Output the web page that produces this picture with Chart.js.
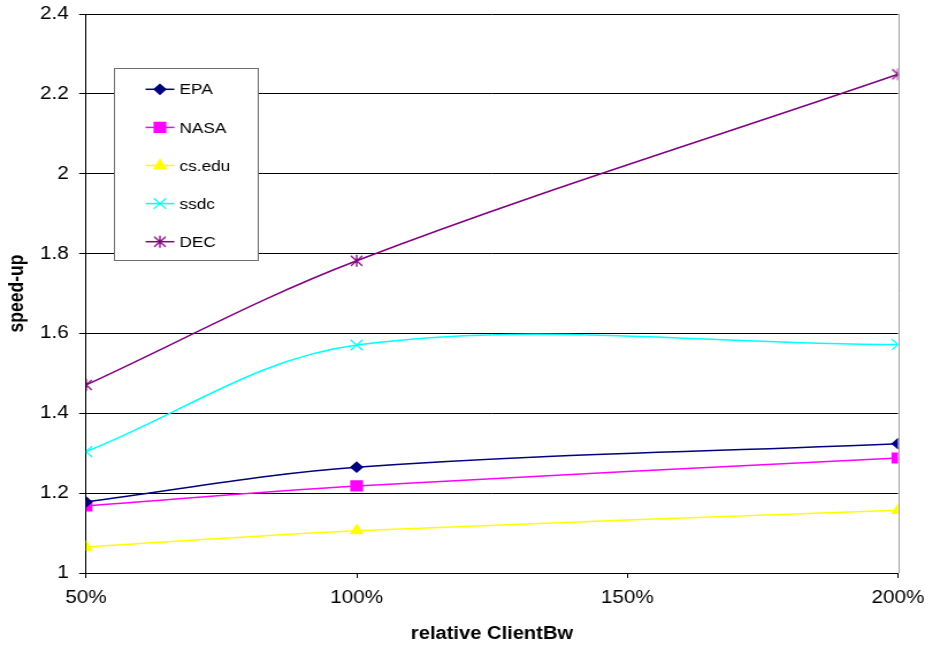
<!DOCTYPE html>
<html>
<head>
<meta charset="utf-8">
<title>speed-up vs relative ClientBw</title>
<script src="https://cdn.jsdelivr.net/npm/chart.js@4/dist/chart.umd.min.js"></script>
<style>
  html, body { margin: 0; padding: 0; background: #fff; overflow: hidden; }
  /* the drawing is made on a slightly narrower canvas and widened, giving the broad lettering */
  #wrap { position: absolute; left: 0; top: 0; width: 804px; height: 645px;
          transform-origin: 0 0; transform: scaleX(1.1505); }
</style>
</head>
<body>
<div id="wrap"><canvas id="c"></canvas></div>
<script>
// relative client bandwidth (%) at which each trace was replayed
const bandwidth = [50, 100, 200];
const xTickValues = [50, 100, 150, 200];
const yTickValues = [1, 1.2, 1.4, 1.6, 1.8, 2, 2.2, 2.4];

const seriesNames = ['EPA', 'NASA', 'cs.edu', 'ssdc', 'DEC'];
const epa   = [1.178, 1.265, 1.324];
const nasa  = [1.168, 1.218, 1.288];
const csEdu = [1.065, 1.106, 1.157];
const ssdc  = [1.304, 1.571, 1.572];
const dec   = [1.471, 1.782, 2.249];

const FONT = '"Liberation Sans", Arial, Helvetica, sans-serif';

// six-armed asterisk marker: an X with a vertical bar
function asteriskMarker(color) {
  const c = document.createElement('canvas');
  c.width = 14; c.height = 14;
  const g = c.getContext('2d');
  g.strokeStyle = color;
  g.lineWidth = 1.3;
  g.beginPath();
  g.moveTo(2, 2);  g.lineTo(12, 12);
  g.moveTo(12, 2); g.lineTo(2, 12);
  g.moveTo(7, 1);  g.lineTo(7, 13);
  g.stroke();
  return c;
}

const styles = [
  { color: '#000080', pointStyle: 'rectRot',  radius: 5 },
  { color: '#FF00FF', pointStyle: 'rect',     radius: 7 },
  { color: '#FFFF00', pointStyle: 'triangle', radius: 6 },
  { color: '#00FFFF', pointStyle: 'crossRot', radius: 7.5 },
  { color: '#800080', pointStyle: asteriskMarker('#800080'), radius: 7 }
];

const values = [epa, nasa, csEdu, ssdc, dec];

const datasets = seriesNames.map((name, i) => ({
  label: name,
  data: bandwidth.map((x, j) => ({ x: x, y: values[i][j] })),
  borderColor: styles[i].color,
  backgroundColor: styles[i].color,
  pointBackgroundColor: styles[i].color,
  pointBorderColor: styles[i].color,
  pointStyle: styles[i].pointStyle,
  pointRadius: styles[i].radius,
  pointHoverRadius: styles[i].radius,
  pointBorderWidth: 1.3,
  borderWidth: 1.5,
  tension: 0.35,
  fill: false
}));

// boxed key inside the plot, plus the grey right-hand frame line
const boxedKey = {
  id: 'boxedKey',
  beforeDatasetsDraw(chart) {
    const { ctx, chartArea } = chart;
    ctx.save();
    ctx.strokeStyle = '#a0a0a0';
    ctx.lineWidth = 1;
    ctx.beginPath();
    ctx.moveTo(Math.round(chartArea.right) + 0.5, chartArea.top);
    ctx.lineTo(Math.round(chartArea.right) + 0.5, chartArea.bottom);
    ctx.stroke();
    ctx.restore();
  },
  afterDatasetsDraw(chart, args, opts) {
    const { ctx } = chart;
    ctx.save();
    ctx.fillStyle = '#fff';
    ctx.fillRect(opts.x, opts.y, opts.w, opts.h);
    ctx.strokeStyle = '#707070';
    ctx.lineWidth = 1;
    ctx.strokeRect(Math.round(opts.x) + 0.5, Math.round(opts.y) + 0.5, Math.round(opts.w), Math.round(opts.h));
    chart.data.datasets.forEach((ds, i) => {
      const yy = opts.rowY0 + i * opts.rowStep;
      ctx.strokeStyle = ds.borderColor;
      ctx.lineWidth = 1.5;
      ctx.beginPath();
      ctx.moveTo(opts.lineX0, yy);
      ctx.lineTo(opts.lineX1, yy);
      ctx.stroke();
      ctx.fillStyle = ds.pointBackgroundColor;
      ctx.strokeStyle = ds.pointBorderColor;
      ctx.lineWidth = 1.3;
      Chart.helpers.drawPoint(ctx, {
        pointStyle: ds.pointStyle, radius: ds.pointRadius, rotation: 0, borderWidth: 1.3
      }, (opts.lineX0 + opts.lineX1) / 2, yy);
      ctx.fillStyle = '#000';
      ctx.font = '15px ' + FONT;
      ctx.textAlign = 'left';
      ctx.textBaseline = 'middle';
      ctx.fillText(ds.label, opts.textX, yy + 1);
    });
    ctx.restore();
  }
};

new Chart(document.getElementById('c'), {
  type: 'line',
  data: { datasets: datasets },
  plugins: [boxedKey],
  options: {
    responsive: true,
    maintainAspectRatio: false,
    animation: false,
    events: [],
    layout: { padding: { top: 14, right: 23.5, left: 0, bottom: 0 } },
    plugins: {
      legend: { display: false },
      tooltip: { enabled: false },
      boxedKey: { x: 99, y: 68, w: 125, h: 192, lineX0: 126.5, lineX1: 151.5, textX: 156, rowY0: 89.3, rowStep: 38.1 }
    },
    scales: {
      x: {
        type: 'linear',
        min: 50, max: 200,
        afterBuildTicks: s => { s.ticks = xTickValues.map(v => ({ value: v })); },
        afterFit: s => { s.height = 72; s.paddingLeft = 0; s.paddingRight = 0; },
        border: { display: true, color: '#000', width: 1 },
        grid: { drawOnChartArea: false, drawTicks: true, tickLength: 5, tickColor: '#000' },
        ticks: {
          color: '#000', padding: 9, maxRotation: 0,
          font: { family: FONT, size: 18 },
          callback: v => v + '%'
        },
        title: {
          display: true, text: 'relative ClientBw', color: '#000',
          font: { family: FONT, size: 17.5, weight: 'bold' },
          padding: { top: 0, bottom: 0 }
        }
      },
      y: {
        min: 1, max: 2.4,
        afterBuildTicks: s => { s.ticks = yTickValues.map(v => ({ value: v })); },
        afterFit: s => { s.width = 74.75; s.paddingTop = 0; s.paddingBottom = 0; },
        border: { display: true, color: '#000', width: 1 },
        grid: { color: '#000', lineWidth: 1, drawTicks: true, tickLength: 6, tickColor: '#000' },
        ticks: {
          color: '#000', padding: 9,
          font: { family: FONT, size: 18 },
          callback: v => String(Number(v.toFixed(1)))
        },
        title: {
          display: true, text: 'speed-up', color: '#000',
          font: { family: FONT, size: 17.5, weight: 'bold' },
          padding: { top: 5, bottom: 0 }
        }
      }
    }
  }
});
</script>
</body>
</html>
